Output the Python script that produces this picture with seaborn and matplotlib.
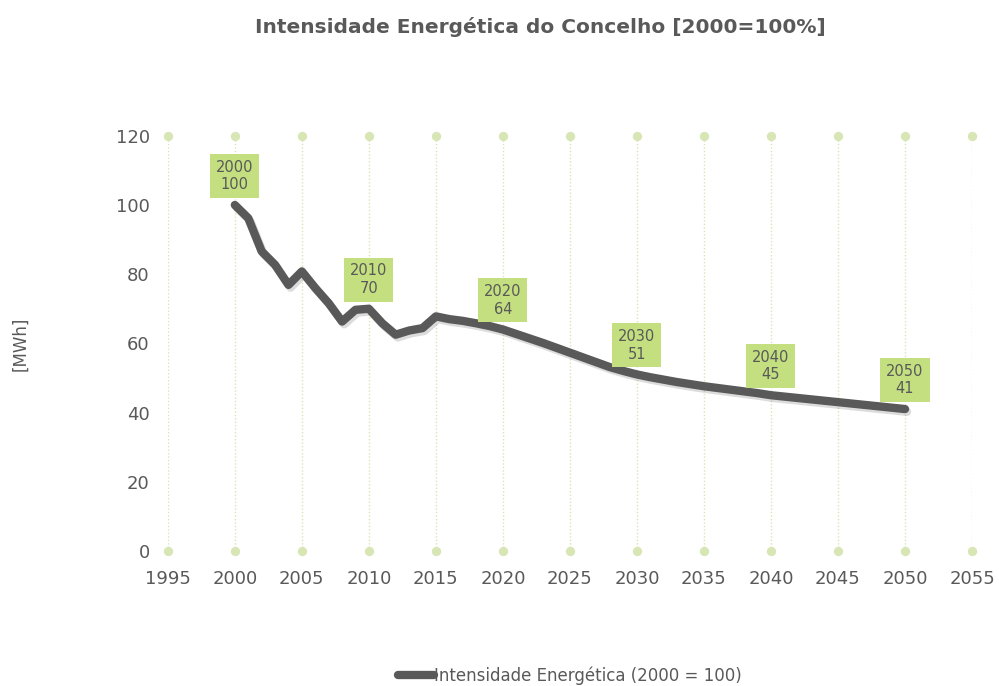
import matplotlib
matplotlib.use("Agg")
import pandas as pd
import seaborn as sns
import matplotlib.pyplot as plt
import matplotlib.patheffects as pe

# data
years = list(range(2000, 2051))
intensity = [100, 96.2, 86.6, 82.7, 76.9, 80.8, 76.0, 71.6, 66.3, 69.7,
             70.0, 65.8, 62.5, 63.7, 64.4, 67.8, 67.0, 66.5, 65.8, 65.0,
             64.0, 62.7, 61.4, 60.1, 58.7, 57.3, 55.9, 54.5, 53.1, 52.0,
             51.0, 50.2, 49.5, 48.8, 48.2, 47.6, 47.1, 46.6, 46.1, 45.6,
             45.0, 44.6, 44.2, 43.8, 43.4, 43.0, 42.6, 42.2, 41.8, 41.4,
             41.0]
label_years = [2000, 2010, 2020, 2030, 2040, 2050]
label_values = [100, 70, 64, 51, 45, 41]
xticks = list(range(1995, 2056, 5))
yticks = list(range(0, 121, 20))

df = pd.DataFrame({"year": years, "value": intensity})

sns.set_theme(style="white")
plt.rcParams["font.family"] = ["DejaVu Sans"]
txt = "#595959"
grid_green = "#d7e6b4"

fig = plt.figure(figsize=(9.99, 6.86), dpi=100)
ax = fig.add_axes([0.168, 0.197, 0.805, 0.605])

for x in xticks:
    ax.axvline(x, color=grid_green, lw=1, ls=(0, (1, 1.5)), zorder=0)
ax.scatter(xticks + xticks, [0] * len(xticks) + [120] * len(xticks),
           s=45, color=grid_green, clip_on=False, zorder=1, linewidths=0)

sns.lineplot(data=df, x="year", y="value", ax=ax, color="#595959", lw=6,
             solid_capstyle="round", solid_joinstyle="round",
             label="Intensidade Energética (2000 = 100)", zorder=3,
             path_effects=[pe.SimpleLineShadow(offset=(1.5, -2), alpha=0.15),
                           pe.Normal()])

for yr, v in zip(label_years, label_values):
    ax.annotate(f"{yr}\n{v}", xy=(yr, df.loc[df.year == yr, "value"].iloc[0]),
                xytext=(0, 21), textcoords="offset points", ha="center",
                va="center", fontsize=10.5, color=txt, zorder=4,
                bbox=dict(boxstyle="square,pad=0.4", fc="#c3df7f", ec="none"))

ax.set_xlim(1995, 2055)
ax.set_ylim(0, 120)
ax.set_xticks(xticks)
ax.set_yticks(yticks)
ax.tick_params(axis="both", length=0, labelsize=13, labelcolor=txt)
ax.tick_params(axis="x", pad=14)
ax.tick_params(axis="y", pad=13)
for s in ax.spines.values():
    s.set_visible(False)
ax.set_xlabel("")
ax.set_ylabel("[MWh]", fontsize=12, color=txt, labelpad=62)

fig.suptitle("Intensidade Energética do Concelho [2000=100%]", x=0.541, y=0.975,
             fontsize=14.5, fontweight="bold", color=txt)

leg = ax.legend(loc="center", bbox_to_anchor=(0.5, -0.30),
                frameon=False, fontsize=12, handlelength=2.2, handletextpad=0.0,
                bbox_transform=ax.transAxes)
for t in leg.get_texts():
    t.set_color(txt)
leg.get_lines()[0].set_path_effects([])

fig.savefig("out.png", dpi=100)
